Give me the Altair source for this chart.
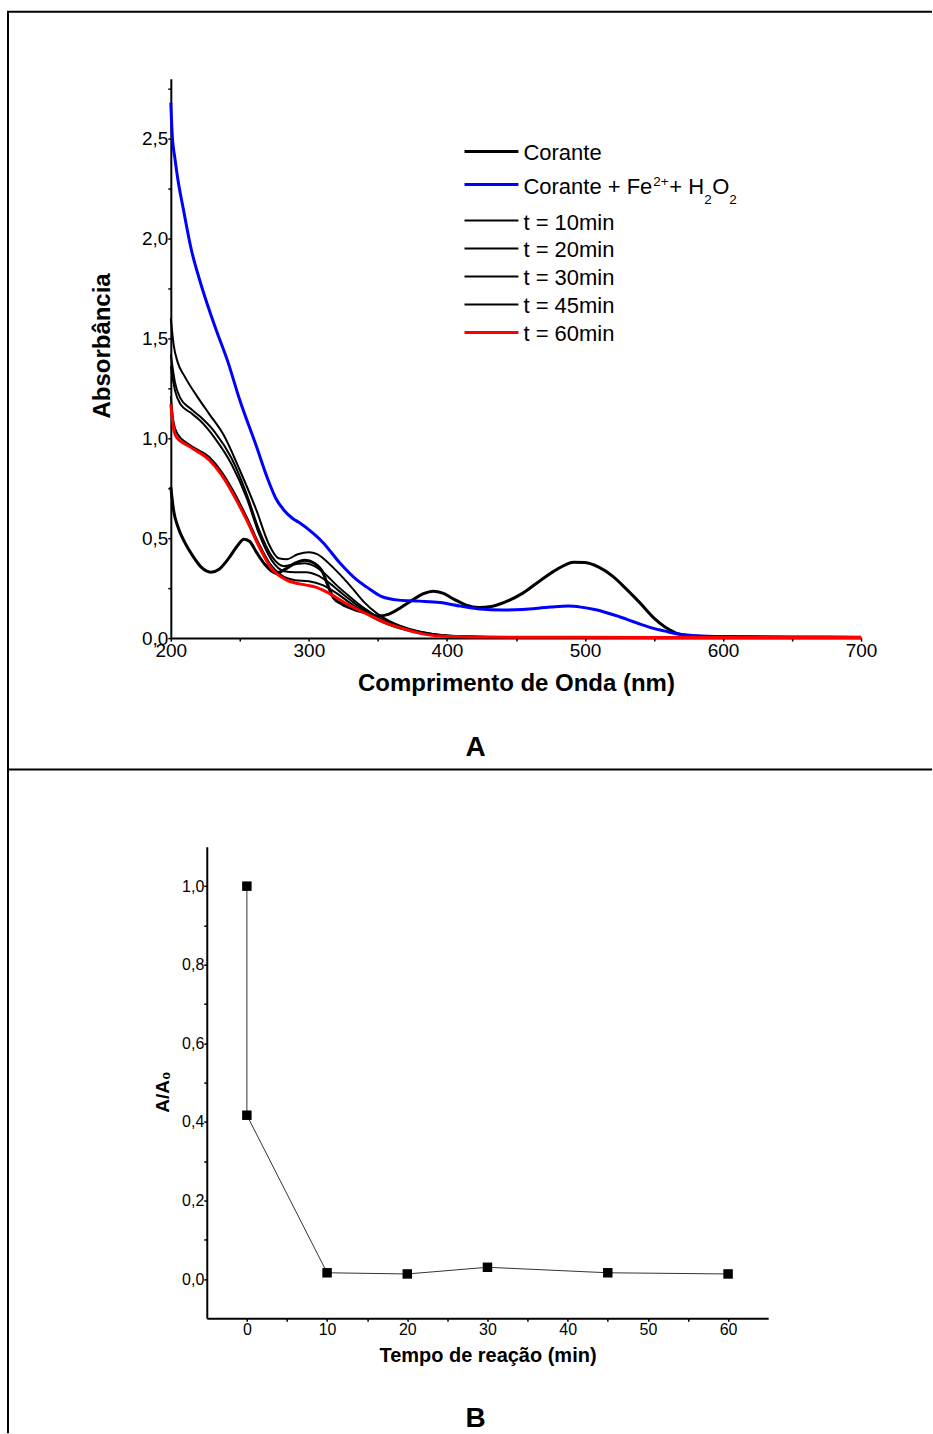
import altair as alt
import pandas as pd

FONT = "Liberation Sans"

# ---------------- Panel A: UV-Vis spectra ----------------
wl_corante = [200, 202, 205, 210, 216, 222, 229, 235, 242, 248, 253, 257, 262, 268, 276, 283, 290, 297, 304, 310,
              314, 318, 324, 332, 342, 350, 358, 366, 375, 383, 390, 397, 405, 414, 423, 432, 442, 455, 468, 480,
              492, 500, 510, 520, 530, 540, 550, 558, 566, 575, 590, 620, 700]
ab_corante = [0.757, 0.64, 0.56, 0.48, 0.41, 0.355, 0.33, 0.345, 0.40, 0.46, 0.495, 0.485, 0.43, 0.37, 0.325, 0.345,
              0.375, 0.39, 0.375, 0.33, 0.26, 0.20, 0.17, 0.145, 0.125, 0.11, 0.12, 0.15, 0.19, 0.222, 0.235, 0.225,
              0.195, 0.165, 0.153, 0.158, 0.18, 0.225, 0.29, 0.345, 0.38, 0.378, 0.355, 0.31, 0.245, 0.175, 0.10,
              0.055, 0.025, 0.012, 0.007, 0.005, 0.003]

wl_fenton = [200, 201, 203, 205, 209, 215, 221, 226, 233, 241, 250, 262, 270, 276, 282, 288, 293, 303, 310, 322,
             335, 342, 352, 365, 380, 395, 410, 424, 440, 455, 475, 488, 497, 507, 525, 540, 549, 558, 566, 580,
             600, 650, 700]
ab_fenton = [2.68, 2.52, 2.40, 2.30, 2.15, 1.94, 1.79, 1.68, 1.54, 1.39, 1.19, 0.96, 0.80, 0.70, 0.64, 0.60, 0.578,
             0.525, 0.48, 0.38, 0.29, 0.255, 0.21, 0.19, 0.185, 0.178, 0.16, 0.145, 0.14, 0.143, 0.155, 0.16, 0.155,
             0.143, 0.107, 0.07, 0.05, 0.035, 0.022, 0.012, 0.008, 0.006, 0.004]

wl_t10 = [200, 202, 205, 210, 220, 228, 238, 250, 262, 271, 278, 284, 292, 300, 306, 312, 318, 325, 332, 340,
          349, 357, 366, 380, 400, 430, 500, 600, 700]
ab_t10 = [1.60, 1.47, 1.38, 1.31, 1.20, 1.12, 1.02, 0.84, 0.64, 0.47, 0.40, 0.395, 0.42, 0.43, 0.42, 0.39, 0.35,
          0.30, 0.245, 0.18, 0.125, 0.09, 0.062, 0.033, 0.013, 0.006, 0.004, 0.003, 0.002]

wl_t20 = [200, 203, 207, 214, 221, 232, 244, 255, 264, 273, 282, 290, 297, 304, 312, 320, 330, 340, 350, 360,
          372, 385, 400, 430, 500, 600, 700]
ab_t20 = [1.42, 1.28, 1.20, 1.15, 1.11, 1.03, 0.90, 0.72, 0.54, 0.41, 0.36, 0.37, 0.375, 0.36, 0.32, 0.265, 0.205,
          0.15, 0.105, 0.072, 0.045, 0.025, 0.012, 0.006, 0.004, 0.003, 0.002]

wl_t30 = [200, 203, 207, 214, 221, 232, 244, 255, 264, 273, 282, 290, 298, 306, 314, 322, 332, 342, 352, 362,
          374, 388, 405, 430, 500, 600, 700]
ab_t30 = [1.36, 1.24, 1.17, 1.13, 1.09, 1.00, 0.87, 0.70, 0.52, 0.39, 0.335, 0.33, 0.33, 0.315, 0.28, 0.235, 0.18,
          0.13, 0.09, 0.062, 0.038, 0.02, 0.01, 0.006, 0.004, 0.003, 0.002]

wl_t45 = [200, 202, 205, 213, 228, 236, 245, 255, 264, 272, 280, 290, 300, 310, 320, 330, 340, 350, 360, 372,
          385, 400, 430, 500, 600, 700]
ab_t45 = [1.21, 1.08, 1.02, 0.97, 0.905, 0.84, 0.74, 0.605, 0.47, 0.37, 0.315, 0.29, 0.285, 0.265, 0.225, 0.175,
          0.13, 0.09, 0.062, 0.038, 0.02, 0.01, 0.005, 0.004, 0.003, 0.002]

wl_t60 = [200, 202, 204, 214, 228, 236, 245, 255, 264, 272, 284, 298, 305, 313, 327, 346, 358, 366, 380, 395,
          430, 500, 600, 700]
ab_t60 = [1.17, 1.05, 1.007, 0.957, 0.89, 0.824, 0.723, 0.59, 0.457, 0.357, 0.29, 0.265, 0.255, 0.23, 0.173,
          0.107, 0.07, 0.052, 0.025, 0.01, 0.005, 0.004, 0.003, 0.003]

series_names = ["Corante", "Corante + Fe2+ + H2O2", "t = 10min", "t = 20min", "t = 30min", "t = 45min", "t = 60min"]

# ---------------- Panel B: A/A0 vs reaction time ----------------
t_min = [0, 0, 10, 20, 30, 45, 60]
a_ratio = [1.0, 0.417, 0.016, 0.013, 0.030, 0.016, 0.013]

# ---------------- build tables ----------------
rows = []
for name, wl, ab in zip(series_names,
                        [wl_corante, wl_fenton, wl_t10, wl_t20, wl_t30, wl_t45, wl_t60],
                        [ab_corante, ab_fenton, ab_t10, ab_t20, ab_t30, ab_t45, ab_t60]):
    for w, a in zip(wl, ab):
        rows.append({"wl": w, "ab": a, "serie": name})
spectra = pd.DataFrame(rows)

kinetics = pd.DataFrame({"t": t_min, "r": a_ratio, "idx": list(range(len(t_min)))})

# ---------------- Panel A ----------------
xA = alt.X("wl:Q", scale=alt.Scale(domain=[200, 700], nice=False, zero=False),
           axis=alt.Axis(values=list(range(200, 701, 50)), format="d",
                         labelExpr="round(datum.value / 50) % 2 == 0 ? datum.label : ''",
                         title="Comprimento de Onda (nm)", titleFont=FONT, titleFontSize=24,
                         titleFontWeight="bold", titleColor="black", titleY=45, titleBaseline="middle",
                         labelFont=FONT, labelFontSize=19, labelColor="black", labelPadding=0,
                         labelFlush=False, labelOverlap=False, tickSize=3, tickWidth=1.5,
                         tickColor="black", domainColor="black", domainWidth=2, grid=False))
yA = alt.Y("ab:Q", scale=alt.Scale(domain=[0, 2.8], nice=False, zero=False),
           axis=alt.Axis(values=[i * 0.25 for i in range(12)],
                         labelExpr="round(datum.value * 4) % 2 == 0 ? replace(format(datum.value, '.1f'), '.', ',') : ''",
                         title="Absorbância", titleFont=FONT, titleFontSize=24, titleFontWeight="bold",
                         titleColor="black", titleX=-68, titleY=267, titleAngle=270, titleAlign="center",
                         titleBaseline="middle",
                         labelFont=FONT, labelFontSize=19, labelColor="black", labelPadding=0,
                         labelFlush=False, labelOverlap=False, tickSize=3, tickWidth=1.5,
                         tickColor="black", domainColor="black", domainWidth=2, grid=False))

base = alt.Chart(spectra).encode(x=xA, y=yA)

black_t = base.transform_filter(
    alt.FieldOneOfPredicate(field="serie", oneOf=series_names[2:6])
).mark_line(interpolate="monotone", color="black", strokeWidth=2).encode(detail="serie:N")
corante = base.transform_filter(alt.datum.serie == series_names[0]).mark_line(
    interpolate="monotone", color="black", strokeWidth=3)
fenton = base.transform_filter(alt.datum.serie == series_names[1]).mark_line(
    interpolate="monotone", color="#0000FF", strokeWidth=3)
t60 = base.transform_filter(alt.datum.serie == series_names[6]).mark_line(
    interpolate="monotone", color="#FF0000", strokeWidth=3)

one = alt.Data(values=[{}])


def rule(x1, x2, y1, y2, color="black", width=2):
    return alt.Chart(one).mark_rule(color=color, strokeWidth=width, strokeCap="butt").encode(
        x=alt.value(x1), x2=alt.value(x2), y=alt.value(y1), y2=alt.value(y2))


def text(s, x, y, size, weight="normal", align="left", baseline="alphabetic"):
    return alt.Chart(one).mark_text(font=FONT, fontSize=size, fontWeight=weight, align=align,
                                    baseline=baseline, color="black").encode(
        x=alt.value(x), y=alt.value(y), text=alt.value(s))


# custom legend
leg_colors = ["black", "#0000FF", "black", "black", "black", "black", "#FF0000"]
leg_widths = [3, 3, 2, 2, 2, 2, 3]
leg_line_y = [73, 106, 142, 170, 198, 226, 254]
leg_text_y = [81, 115, 151, 179, 207, 235, 263]
legend_layers = []
for i in range(7):
    legend_layers.append(rule(294, 348, leg_line_y[i], leg_line_y[i], leg_colors[i], leg_widths[i]))
    if i != 1:
        legend_layers.append(text(series_names[i], 353, leg_text_y[i], 22))
# "Corante + Fe2+ + H2O2" with super/subscripts
legend_layers += [
    text("Corante + Fe", 353, 115, 22),
    text("2+", 483, 107, 13.5),
    text("+ H", 499, 115, 22),
    text("2", 534, 125, 13.5),
    text("O", 542, 115, 22),
    text("2", 559, 125, 13.5),
]

# figure frame (relative to panel A plot origin)
frame_layers = [
    rule(-164, 762, -67, -67),      # top border
    rule(-163, -163, -67, 1356),    # left border
    rule(-164, 762, 691.5, 691.5),  # divider between panels
]

label_A = text("A", 305, 670, 28, weight="bold", align="center", baseline="middle")

chartA = alt.layer(black_t, corante, fenton, t60, *legend_layers, *frame_layers, label_A).properties(
    width=691, height=560)

# ---------------- Panel B ----------------
xB = alt.X("t:Q", scale=alt.Scale(domain=[-5, 65], nice=False, zero=False),
           axis=alt.Axis(values=list(range(0, 61, 5)), format="d",
                         labelExpr="round(datum.value / 5) % 2 == 0 ? datum.label : ''",
                         title="Tempo de reação (min)", titleFont=FONT, titleFontSize=20,
                         titleFontWeight="bold", titleColor="black", titleY=37, titleBaseline="middle",
                         labelFont=FONT, labelFontSize=16, labelColor="black", labelPadding=0,
                         labelFlush=False, labelOverlap=False, tickSize=3, tickWidth=1.5,
                         tickColor="black", domainColor="black", domainWidth=2, grid=False))
yB = alt.Y("r:Q", scale=alt.Scale(domain=[-0.1, 1.1], nice=False, zero=False),
           axis=alt.Axis(values=[round(i * 0.1, 1) for i in range(11)],
                         labelExpr="round(datum.value * 10) % 2 == 0 ? replace(format(datum.value, '.1f'), '.', ',') : ''",
                         title="A/A₀", titleFont=FONT, titleFontSize=19, titleFontWeight="bold",
                         titleColor="black", titleX=-44, titleY=245, titleAngle=270, titleAlign="center",
                         titleBaseline="middle",
                         labelFont=FONT, labelFontSize=16, labelColor="black", labelPadding=0,
                         labelFlush=False, labelOverlap=False, tickSize=3, tickWidth=1.5,
                         tickColor="black", domainColor="black", domainWidth=2, grid=False))

baseB = alt.Chart(kinetics).encode(x=xB, y=yB)
lineB = baseB.mark_line(color="#333333", strokeWidth=1).encode(order="idx:Q")
pointsB = baseB.mark_point(shape="square", filled=True, color="black", size=90, opacity=1)
label_B = text("B", 269, 573, 28, weight="bold", align="center", baseline="middle")

chartB = alt.layer(lineB, pointsB, label_B).properties(width=562, height=472)

spacer = alt.Chart(one).mark_point(opacity=0).encode(x=alt.value(0), y=alt.value(0)).properties(
    width=36, height=472)

bottom = alt.hconcat(spacer, chartB, spacing=0, bounds="flush")

chart = alt.vconcat(chartA, bottom, spacing=209, bounds="flush").properties(
    padding={"left": 6, "top": 10, "right": 0, "bottom": 0},
    background="white",
).configure_view(strokeWidth=0, stroke="transparent")

chart.save("out.html", embed_options={"renderer": "svg", "actions": False})
